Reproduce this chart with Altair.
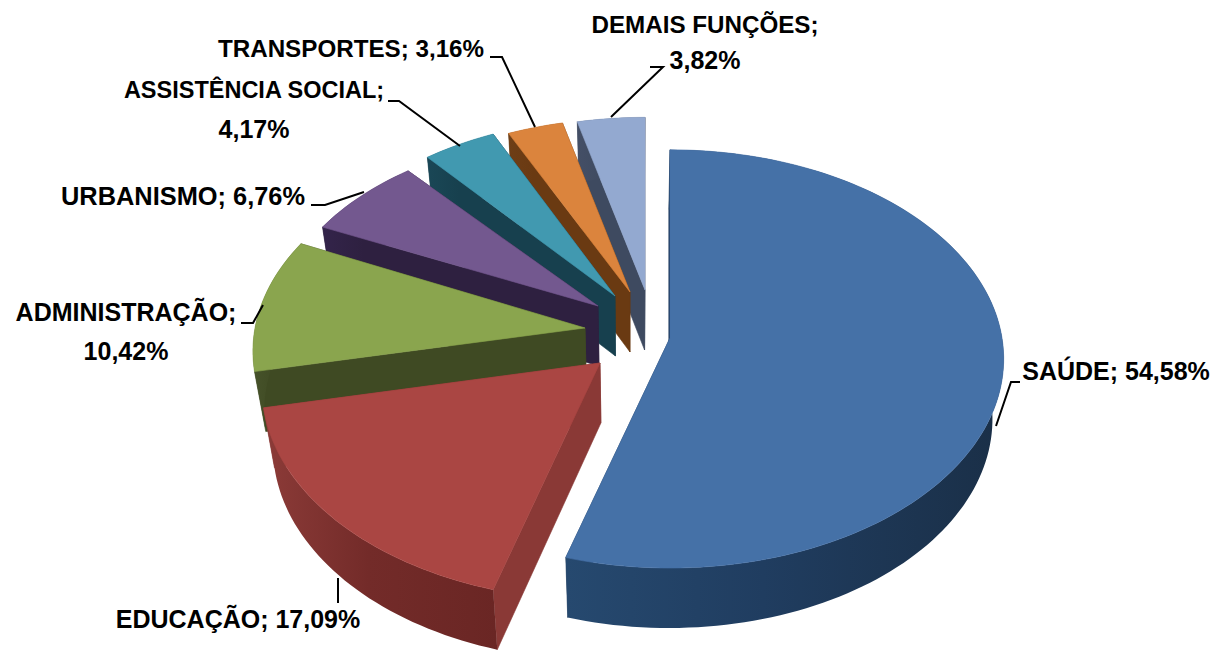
import math
import altair as alt
import pandas as pd

# ---- chart data -------------------------------------------------------------
categories = ["SAÚDE", "EDUCAÇÃO", "ADMINISTRAÇÃO", "URBANISMO",
              "ASSISTÊNCIA SOCIAL", "TRANSPORTES", "DEMAIS FUNÇÕES"]
shares = [54.58, 17.09, 10.42, 6.76, 4.17, 3.16, 3.82]
share_labels = ["54,58%", "17,09%", "10,42%", "6,76%", "4,17%", "3,16%", "3,82%"]

# ---- look -------------------------------------------------------------------
top_colors = ["#4571A7", "#AA4643", "#8AA54E", "#73588F", "#4199B0", "#DB843D", "#93A9D0"]
cut_colors = ["#1E3A5C", "#8A3936", "#3F4A23", "#2E2040", "#17404E", "#6A3A12", "#3E4A60"]
wall_left = ["#26496F", "#8C3B38", "#46522A", "#33244A", "#1A4756", "#6E3E16", "#444F66"]
wall_mid = ["#203D60", "#732B29", "#3F4A23", "#2E2040", "#17404E", "#6A3A12", "#3E4A60"]
wall_right = ["#1A2F47", "#6A2624", "#3F4A23", "#2E2040", "#17404E", "#6A3A12", "#3E4A60"]

# ---- 3-D layout (page pixels) ----------------------------------------------
apex = [(670, 338), (600, 363), (585, 328), (598, 306), (615, 296), (630, 292), (645, 290)]
semi_x = [332, 336, 330, 320, 316, 315, 316]
semi_y = [207, 211, 205, 192, 197, 193, 192]
persp = [0.10, 0.112, 0.112, 0.112, 0.112, 0.112, 0.112]
DEPTH = 60
SHRINK = 0.97
VANISH_X = 630

W, H = 1202, 644
OX, OY = 8, 8


def rim(i, deg):
    t = math.radians(deg)
    w = 1 + persp[i] * math.cos(t)
    return (apex[i][0] + semi_x[i] * math.sin(t) / w,
            apex[i][1] - semi_y[i] * math.cos(t) / w)


def low(p):
    return (VANISH_X + SHRINK * (p[0] - VANISH_X), p[1] + DEPTH)


def feature(points):
    ring = [[round(x - OX, 2), round(y - OY, 2)] for x, y in points]
    ring.append(ring[0])
    return {"type": "Feature", "properties": {},
            "geometry": {"type": "Polygon", "coordinates": [ring]}}


def shape(points, fill, stroke=None):
    kw = {"fill": fill}
    if stroke:
        kw.update(stroke=stroke, strokeWidth=0.6)
    else:
        kw.update(strokeWidth=0)
    return alt.Chart(alt.Data(values=[feature(points)])).mark_geoshape(**kw).project(
        type="identity", scale=1, translate=[0, 0])


starts = []
acc = 0.0
for s in shares:
    starts.append(acc)
    acc += s

layers = []
for i in reversed(range(len(shares))):
    a0 = starts[i] * 3.6
    a1 = (starts[i] + shares[i]) * 3.6
    n = max(4, int((a1 - a0) / 1.5))
    rim_pts = [rim(i, a0 + (a1 - a0) * j / n) for j in range(n + 1)]
    c = apex[i]
    layers.append(shape([c, rim_pts[-1], low(rim_pts[-1]), low(c)], cut_colors[i], cut_colors[i]))
    layers.append(shape([c, rim_pts[0], low(rim_pts[0]), low(c)], cut_colors[i], cut_colors[i]))
    wall_fill = alt.Gradient(
        gradient="linear", x1=0, y1=0, x2=1, y2=0,
        stops=[alt.GradientStop(offset=0, color=wall_left[i]),
               alt.GradientStop(offset=0.45, color=wall_mid[i]),
               alt.GradientStop(offset=1, color=wall_right[i])])
    layers.append(shape(rim_pts + [low(p) for p in reversed(rim_pts)], wall_fill))
    layers.append(shape([c] + rim_pts, top_colors[i], top_colors[i]))

x_scale = alt.Scale(domain=[0, W], range=[0, W], nice=False, zero=False)
y_scale = alt.Scale(domain=[0, H], range=[0, H], nice=False, zero=False)

# ---- labels -----------------------------------------------------------------
label_rows = [
    (f"{categories[0]}; {share_labels[0]}", 1116, 372, 25),
    (f"{categories[1]}; {share_labels[1]}", 238, 620, 25),
    (f"{categories[2]};", 126, 313, 25),
    (share_labels[2], 126, 352, 25),
    (f"{categories[3]}; {share_labels[3]}", 183, 197, 25.4),
    (f"{categories[4]};", 254, 91, 23.5),
    (share_labels[4], 254, 130, 25),
    (f"{categories[5]}; {share_labels[5]}", 351, 50, 24.2),
    (f"{categories[6]};", 705, 26, 24.2),
    (share_labels[6], 705, 61, 25),
]
label_df = pd.DataFrame(
    [{"t": t, "x": x - OX, "y": y - OY, "s": s} for t, x, y, s in label_rows])
labels = alt.Chart(label_df).mark_text(
    font="Liberation Sans", fontWeight="bold",
    color="#000000", align="center", baseline="middle",
).encode(
    x=alt.X("x:Q", scale=x_scale, axis=None),
    y=alt.Y("y:Q", scale=y_scale, axis=None),
    text="t:N",
    size=alt.Size("s:Q", scale=None),
)

# ---- leader lines -----------------------------------------------------------
leaders = [
    [(1020, 382), (1011, 382), (996, 426)],
    [(338, 603), (338, 578)],
    [(241, 323), (253, 323), (263, 305)],
    [(311, 205), (325, 205), (364, 192)],
    [(388, 101), (399, 101), (460, 146)],
    [(490, 57), (502, 57), (535, 127)],
    [(650, 67), (663, 67), (611, 117)],
]
leader_df = pd.DataFrame(
    [{"g": g, "o": o, "x": x - OX, "y": y - OY}
     for g, line in enumerate(leaders) for o, (x, y) in enumerate(line)])
lines = alt.Chart(leader_df).mark_line(color="#000000", strokeWidth=2).encode(
    x=alt.X("x:Q", scale=x_scale, axis=None),
    y=alt.Y("y:Q", scale=y_scale, axis=None),
    detail="g:N",
    order="o:Q",
)

chart = alt.layer(*layers, lines, labels).properties(
    width=W, height=H, padding=0,
    autosize=alt.AutoSizeParams(type="none"),
    background="#FFFFFF",
).configure_view(stroke=None)

chart.save("out.html", embed_options={"renderer": "svg", "actions": False})
